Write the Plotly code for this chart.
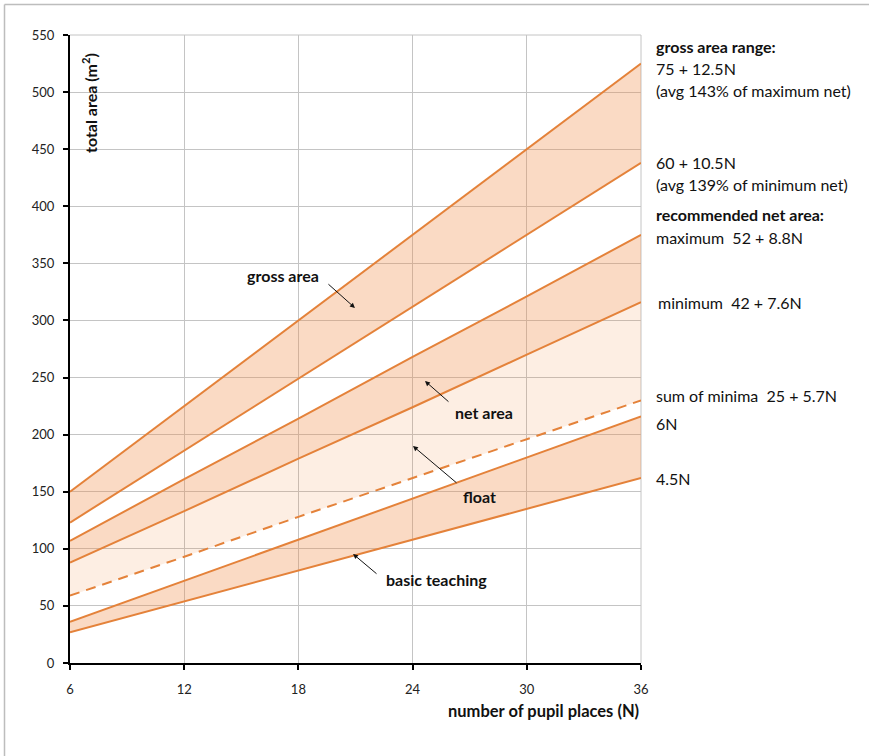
import plotly.graph_objects as go

# ---- data ----
pupil_places = [6, 12, 18, 24, 30, 36]
gross_max = [150, 225, 300, 375, 450, 525]
gross_min = [123, 186, 249, 312, 375, 438]
net_max = [107, 161, 214, 268, 321, 375]
net_min = [88, 133, 179, 224, 270, 316]
sum_of_minima = [59, 93, 128, 162, 196, 230]
six_n = [36, 72, 108, 144, 180, 216]
basic_teaching = [27, 54, 81, 108, 135, 162]

x_ticks = [6, 12, 18, 24, 30, 36]
y_ticks = [0, 50, 100, 150, 200, 250, 300, 350, 400, 450, 500, 550]

LINE = "#E4823A"
DARK = "rgba(240,140,70,0.32)"
LIGHT = "rgba(240,140,70,0.15)"
FONT = "Lato"

fig = go.Figure()

def add(y, fill=None, fillcolor=None, dash=None):
    fig.add_trace(go.Scatter(
        x=pupil_places, y=y, mode="lines",
        line=dict(color=LINE, width=2, dash=dash),
        fill=fill, fillcolor=fillcolor, hoverinfo="skip", showlegend=False))

add(basic_teaching)
add(six_n, "tonexty", DARK)
add(sum_of_minima, dash="10px,7px")
add(net_min, "tonexty", LIGHT)
add(net_max, "tonexty", DARK)
add(gross_min)
add(gross_max, "tonexty", DARK)

W, H = 869, 756
L, R, T, B = 70, 228, 35, 93
pw, ph = W - L - R, H - T - B

def px(xp):
    return (xp - L) / pw

def py(yp):
    return (H - B - yp) / ph

annotations = []

# right-hand labels
right = [
    ("<b>gross area range:</b>", 46, 654),
    ("75 + 12.5N", 68, 654),
    ("(avg 143% of maximum net)", 91, 654),
    ("60 + 10.5N", 162, 654),
    ("(avg 139% of minimum net)", 185, 654),
    ("<b>recommended net area:</b>", 214, 654),
    ("maximum  52 + 8.8N", 237, 654),
    ("minimum  42 + 7.6N", 302, 656),
    ("sum of minima  25 + 5.7N", 395, 654),
    ("6N", 423, 654),
    ("4.5N", 478, 654),
]
for txt, yp, xp in right:
    annotations.append(dict(x=px(xp), y=py(yp), xref="paper", yref="paper",
                            text=txt, showarrow=False, xanchor="left", yanchor="middle",
                            font=dict(family=FONT, size=16, color="#111111")))

# in-plot labels
labels = [
    ("gross area", 17.19, 339),
    ("net area", 27.75, 219),
    ("float", 27.54, 145.4),
    ("basic teaching", 25.28, 72.7),
]
for txt, xv, yv in labels:
    annotations.append(dict(x=xv, y=yv, text="<b>" + txt + "</b>", showarrow=False,
                            xanchor="center", yanchor="middle",
                            font=dict(family=FONT, size=16, color="#111111")))

# arrows: head in data coords, tail offset in pixels
arrows = [
    (20.97, 311, -28, -25),
    (24.65, 247, 25, 22),
    (24.02, 190, 45, 38),
    (20.87, 95.5, 25, 21),
]
for xv, yv, axp, ayp in arrows:
    annotations.append(dict(x=xv, y=yv, ax=axp, ay=ayp, text="", showarrow=True,
                            arrowhead=2, arrowsize=1, arrowwidth=1, arrowcolor="#111111"))

# axis titles
annotations.append(dict(x=px(90), y=py(103), xref="paper", yref="paper",
                        text="<b>total area (m<sup>2</sup>)</b>", textangle=-90,
                        xanchor="center", yanchor="middle",
                        showarrow=False, font=dict(family=FONT, size=16, color="#111111")))
annotations.append(dict(x=1.0, y=py(711), xref="paper", yref="paper",
                        text="<b>number of pupil places (N)</b>", xanchor="right",
                        yanchor="middle",
                        showarrow=False, font=dict(family=FONT, size=16.5, color="#111111")))

shapes = [
    # plot top and right borders
    dict(type="line", xref="paper", yref="paper", x0=0, x1=1, y0=1, y1=1,
         line=dict(color="#c4c4c4", width=1), layer="below"),
    dict(type="line", xref="paper", yref="paper", x0=1, x1=1, y0=0, y1=1,
         line=dict(color="#c4c4c4", width=1), layer="below"),
    # outer chart frame (top and left)
    dict(type="line", xref="paper", yref="paper", x0=px(4.5), x1=px(W), y0=py(4.5), y1=py(4.5),
         line=dict(color="#bdbdbd", width=1.5)),
    dict(type="line", xref="paper", yref="paper", x0=px(4.5), x1=px(4.5), y0=py(4.5), y1=py(H),
         line=dict(color="#bdbdbd", width=1.5)),
]

fig.update_layout(
    width=W, height=H,
    margin=dict(l=L, r=R, t=T, b=B),
    paper_bgcolor="white", plot_bgcolor="white",
    font=dict(family=FONT, size=13, color="#222222"),
    annotations=annotations, shapes=shapes,
    xaxis=dict(range=[6, 36], tickvals=x_ticks, showgrid=True, gridcolor="#c4c4c4",
               gridwidth=1, zeroline=False, showline=True, linecolor="black", linewidth=2,
               ticks="outside", ticklen=5, tickcolor="black", tickwidth=2,
               ticklabelstandoff=8, tickfont=dict(size=13)),
    yaxis=dict(range=[0, 550], tickvals=y_ticks, showgrid=True, gridcolor="#c4c4c4",
               gridwidth=1, zeroline=False, showline=True, linecolor="black", linewidth=2,
               ticks="outside", ticklen=5, tickcolor="black", tickwidth=2,
               ticklabelstandoff=6, tickfont=dict(size=13)),
)

fig.write_html("out.html", config={"displayModeBar": False},
               post_script="document.body.style.margin='0';")
